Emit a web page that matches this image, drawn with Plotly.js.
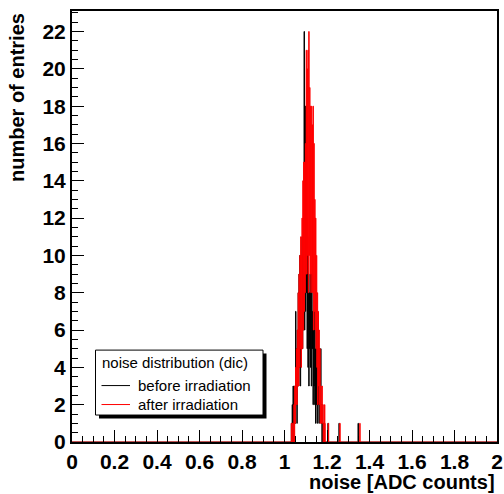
<!DOCTYPE html>
<html>
<head>
<meta charset="utf-8">
<script src="https://cdn.plot.ly/plotly-3.0.1.min.js"></script>
<style>html,body{margin:0;padding:0;background:#fff;}#chart{width:504px;height:494px;}</style>
</head>
<body>
<div id="chart"></div>
<script>
// Histogram binning (ROOT-like: 1000 bins over 0..2)
const binWidth = 0.002;
const nBins = 1000;
// Peak region: consecutive bins starting at 1.030
const peakStart = 1.030;
const beforeCounts = [
  0,1,0,2,1,3,0,2,1,3,
  1,7,2,5,1,6,3,
  8,3,9,4,10,3,9,5,8,
  11,5,10,6,9,
  22,6,18,7,18,8,12,5,11,
  4,9,3,8,5,9,4,8,3,9,5,
  7,2,6,3,7,2,5,1,6,2,
  4,1,5,2,4,1,5,2,3,5,
  1,2,0,2,1,0,1,0,
  0,0,0,0,0,0
];
const afterCounts = [
  0,1,0,1,1,0,1,2,0,3,
  1,4,2,5,2,6,3,
  8,3,9,4,10,5,11,4,10,
  12,5,14,6,15,
  7,15,8,16,9,
  21,9,20,10,21,8,22,10,19,9,
  18,8,18,9,17,8,18,
  6,16,7,13,6,
  12,5,10,4,
  8,2,7,3,6,2,5,
  1,3,2,1,3,1,2,0,
  1,0,2,1,0,0,0,0
];
// Isolated entries in the tail
const beforeTailX = [1.204, 1.256, 1.346];
const beforeTailCounts = [1, 1, 1];
const afterTailX = [1.206, 1.260, 1.354];
const afterTailCounts = [1, 1, 1];

const xTickLabels = ['0','0.2','0.4','0.6','0.8','1','1.2','1.4','1.6','1.8','2'];
const yTickLabels = ['0','2','4','6','8','10','12','14','16','18','20','22'];
const seriesNames = ['before irradiation', 'after irradiation'];
const seriesColors = ['#000000', '#ff0000'];
const legendHeader = 'noise distribution (dic)';

function buildBins(peak, tailX, tailC) {
  const c = new Array(nBins).fill(0);
  const i0 = Math.round(peakStart / binWidth);
  peak.forEach((v, k) => { c[i0 + k] += v; });
  tailX.forEach((x, k) => { c[Math.round(x / binWidth)] += tailC[k]; });
  const xs = [], ys = [];
  for (let i = 0; i < nBins; i++) { xs.push(+(i * binWidth).toFixed(4)); ys.push(c[i]); }
  xs.push(nBins * binWidth); ys.push(c[nBins - 1]);
  return {xs, ys};
}
const before = buildBins(beforeCounts, beforeTailX, beforeTailCounts);
const after = buildBins(afterCounts, afterTailX, afterTailCounts);

const FONT = 'Liberation Sans, Arial, Helvetica, sans-serif';
const traces = [
  {x: before.xs, y: before.ys, type: 'scatter', mode: 'lines', line: {shape: 'hv', color: seriesColors[0], width: 1}, name: seriesNames[0], hoverinfo: 'skip'},
  {x: after.xs, y: after.ys, type: 'scatter', mode: 'lines', line: {shape: 'hv', color: seriesColors[1], width: 1}, name: seriesNames[1], hoverinfo: 'skip'}
];

const L = 72, R = 497, T = 10.5, B = 442, W = 504, H = 494;
const px = v => (v - L) / (R - L);
const py = v => (B - v) / (B - T);

// Legend box (ROOT TLegend style with shadow)
const lg = {x0: 95.5, x1: 263, y0: 350, y1: 415, sh: 3.5};
const shapes = [
  {type: 'rect', xref: 'paper', yref: 'paper', x0: px(lg.x0 + lg.sh), x1: px(lg.x1 + lg.sh), y0: py(lg.y1 + lg.sh), y1: py(lg.y0 + lg.sh), fillcolor: '#000', line: {width: 0}, layer: 'above'},
  {type: 'rect', xref: 'paper', yref: 'paper', x0: px(lg.x0), x1: px(lg.x1), y0: py(lg.y1), y1: py(lg.y0), fillcolor: '#fff', line: {width: 1, color: '#000'}, layer: 'above'}
];
const entryY = [385.5, 404.5];
seriesNames.forEach((n, k) => {
  shapes.push({type: 'line', xref: 'paper', yref: 'paper', x0: px(101.5), x1: px(130), y0: py(entryY[k]), y1: py(entryY[k]), line: {width: 1, color: seriesColors[k]}, layer: 'above'});
});
const LEGFONT = {family: FONT, size: 15, color: '#000'};
const annotations = [
  {text: 'noise [ADC counts]', xref: 'paper', yref: 'paper', x: 1, y: py(482), xanchor: 'right', yanchor: 'middle', showarrow: false,
   font: {family: FONT, size: 20, color: '#000', weight: 'bold'}},
  {text: 'number of entries', xref: 'paper', yref: 'paper', x: px(17), y: py(11), xanchor: 'center', yanchor: 'top', textangle: -90, showarrow: false,
   font: {family: FONT, size: 20, color: '#000', weight: 'bold'}},
  {text: legendHeader, xref: 'paper', yref: 'paper', x: px(99.5), y: py(362), xanchor: 'left', yanchor: 'middle', showarrow: false, font: LEGFONT}
];
seriesNames.forEach((n, k) => {
  annotations.push({text: n, xref: 'paper', yref: 'paper', x: px(136), y: py(entryY[k] - 0.5), xanchor: 'left', yanchor: 'middle', showarrow: false, font: LEGFONT});
});

const TICKFONT = {family: FONT, size: 21, color: '#000', weight: 'bold'};
const layout = {
  width: W, height: H,
  margin: {l: L, r: W - R, t: T, b: H - B, pad: 0},
  paper_bgcolor: '#ffffff', plot_bgcolor: '#ffffff',
  showlegend: false,
  xaxis: {
    range: [0, 2], tickmode: 'array',
    tickvals: xTickLabels.map(Number), ticktext: xTickLabels,
    ticks: 'inside', ticklen: 12, tickwidth: 1, tickcolor: '#000',
    minor: {dtick: 0.05, tick0: 0, ticks: 'inside', ticklen: 6, tickwidth: 1, tickcolor: '#000', showgrid: false},
    showgrid: false, zeroline: false, showline: true, linecolor: '#000', linewidth: 2, mirror: true,
    tickfont: TICKFONT
  },
  yaxis: {
    range: [0, 23.1], tickmode: 'array',
    tickvals: yTickLabels.map(Number), ticktext: yTickLabels,
    ticks: 'inside', ticklen: 12, tickwidth: 1, tickcolor: '#000',
    minor: {dtick: 0.5, tick0: 0, ticks: 'inside', ticklen: 6, tickwidth: 1, tickcolor: '#000', showgrid: false},
    showgrid: false, zeroline: false, showline: true, linecolor: '#000', linewidth: 2, mirror: true,
    tickfont: TICKFONT
  },
  shapes: shapes,
  annotations: annotations
};

Plotly.newPlot('chart', traces, layout, {staticPlot: true, displayModeBar: false});
</script>
</body>
</html>
